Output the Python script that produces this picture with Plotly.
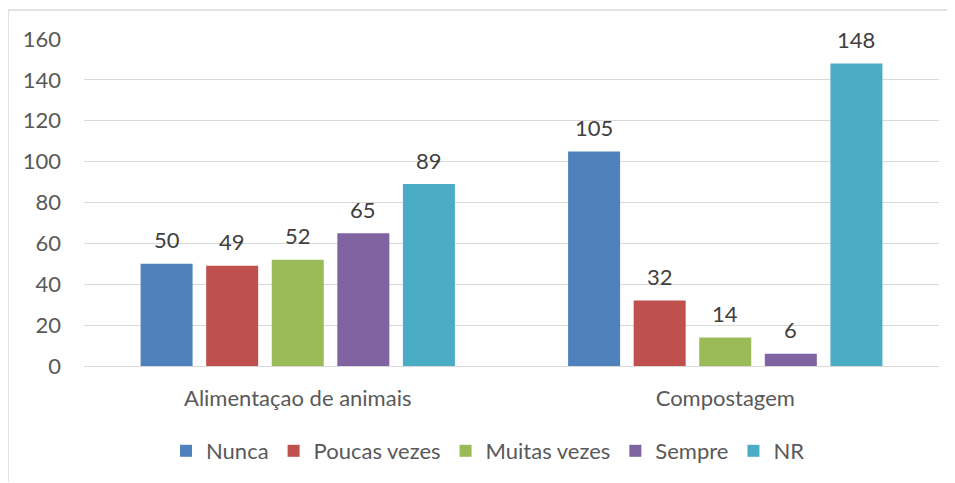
import plotly.graph_objects as go

categories = ["Alimentaçao de animais", "Compostagem"]
series_names = ["Nunca", "Poucas vezes", "Muitas vezes", "Sempre", "NR"]
nunca = [50, 105]
poucas = [49, 32]
muitas = [52, 14]
sempre = [65, 6]
nr = [89, 148]
values = [nunca, poucas, muitas, sempre, nr]
colors = ["#4F81BD", "#C0504D", "#9BBB59", "#8064A2", "#4BACC6"]
y_ticks = [0, 20, 40, 60, 80, 100, 120, 140, 160]

FONT = "Lato, Open Sans, sans-serif"
BARGAP = 0.233
GROUPGAP = 0.207

fig = go.Figure()
for name, vals, col in zip(series_names, values, colors):
    fig.add_trace(go.Bar(
        x=categories, y=vals, name=name, marker_color=col,
        marker_line_width=0,
    ))

# data labels, placed over each bar through the axis coordinates
n = len(series_names)
slot = (1 - BARGAP) / n
annotations = []
for si, vals in enumerate(values):
    for ci, v in enumerate(vals):
        annotations.append(dict(
            x=ci + (si - (n - 1) / 2) * slot, y=v, xref="x", yref="y",
            text=str(v), showarrow=False, yanchor="middle", yshift=24,
            font=dict(size=22, color="#404040", family=FONT),
        ))

# page is offset by the 8px body margin
W, H = 947, 475
L, R, T, B = 76, 16, 31, 116
pw, ph = W - L - R, H - T - B

def px(x):
    return (x - L) / pw

def py(y):
    return (H - B - y) / ph

fig.update_layout(
    width=W, height=H,
    margin=dict(l=L, r=R, t=T, b=B),
    paper_bgcolor="white", plot_bgcolor="white",
    barmode="group", bargap=BARGAP, bargroupgap=GROUPGAP,
    font=dict(family=FONT, size=22, color="#595959"),
    showlegend=True,
    legend=dict(orientation="h", x=px(480), xanchor="center", y=py(443), yanchor="middle",
                font=dict(size=22, color="#595959", family=FONT),
                itemwidth=30, traceorder="normal"),
    xaxis=dict(showgrid=False, showline=False, ticks="", ticklabelstandoff=17,
               tickfont=dict(size=22, color="#595959")),
    yaxis=dict(range=[0, 160], tickvals=y_ticks, showgrid=True, gridcolor="#D9D9D9",
               gridwidth=1, zeroline=True, zerolinecolor="#D9D9D9", zerolinewidth=1,
               showline=False, ticks="", ticklabelstandoff=22,
               tickfont=dict(size=22, color="#595959")),
    annotations=annotations,
    shapes=[
        dict(type="line", xref="paper", yref="paper", x0=px(0), x1=px(W), y0=py(2), y1=py(2),
             line=dict(color="#D9D9D9", width=1.5)),
        dict(type="line", xref="paper", yref="paper", x0=px(0), x1=px(0), y0=py(2), y1=py(H),
             line=dict(color="#D9D9D9", width=1.5)),
    ],
)

fig.write_html("out.html")
